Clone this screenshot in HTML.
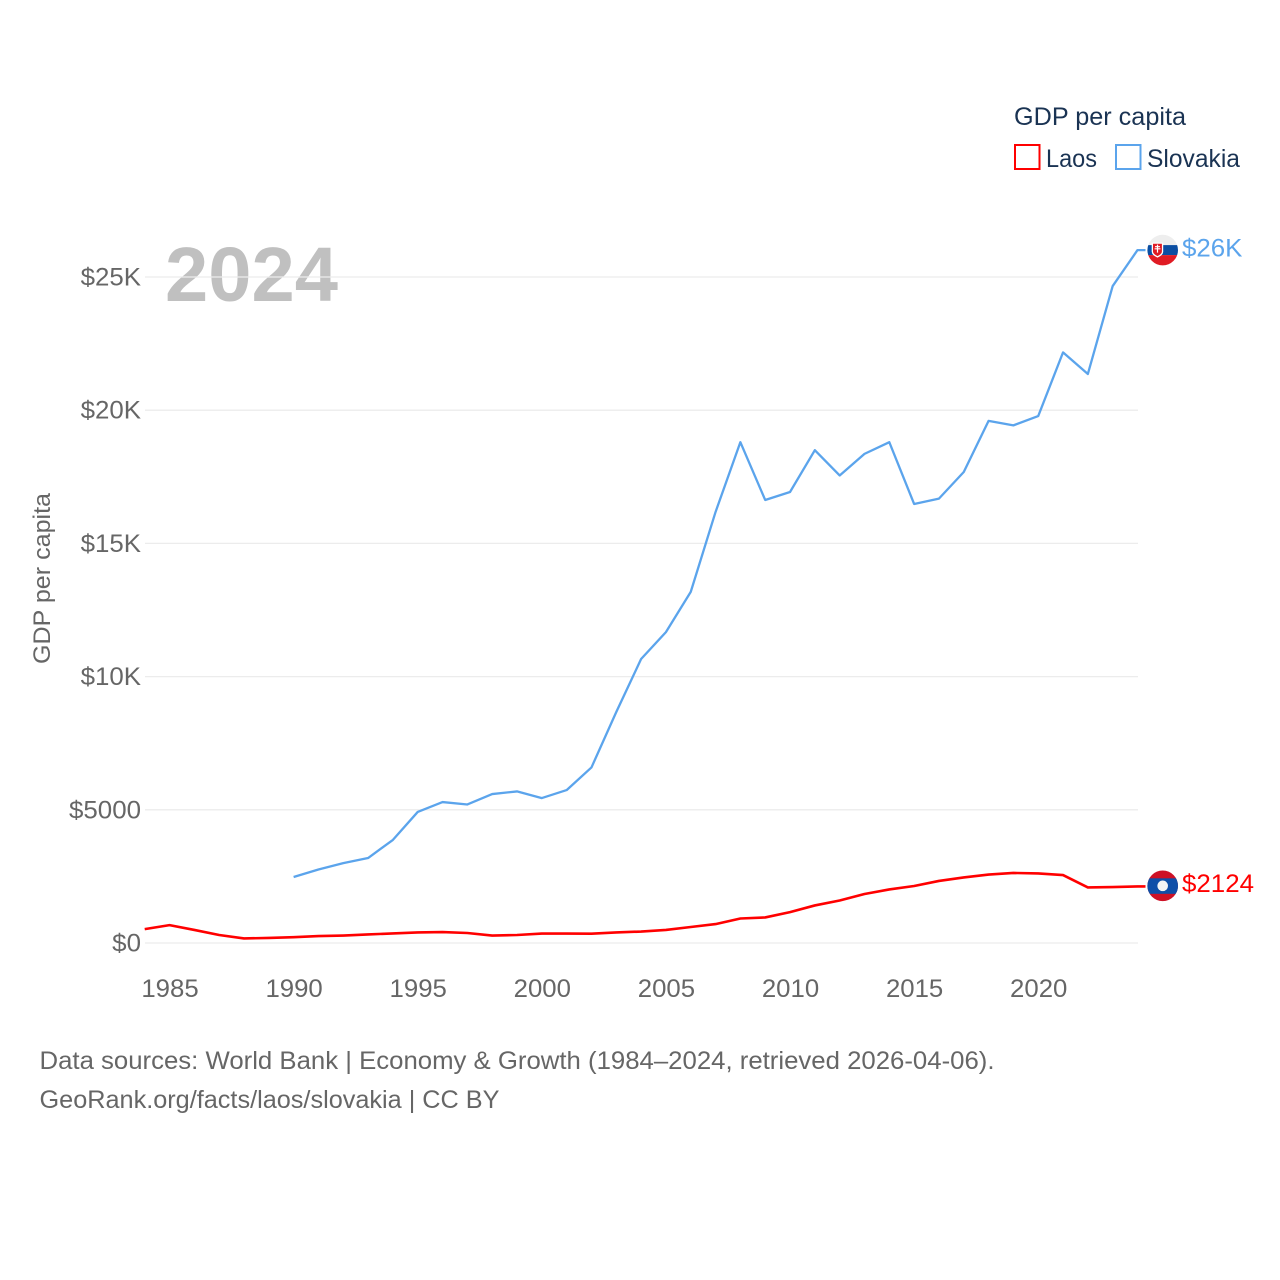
<!DOCTYPE html>
<html lang="en">
<head>
<meta charset="utf-8">
<title>GDP per capita: Laos vs Slovakia</title>
<style>
html,body{margin:0;padding:0;background:#fff;}
svg{display:block;font-family:"Liberation Sans",sans-serif;}
</style>
</head>
<body>
<svg id="chart" xmlns="http://www.w3.org/2000/svg" width="1280" height="1280" viewBox="0 0 1280 1280">
  <defs>
    <clipPath id="flag-clip-sk"><circle cx="0" cy="0" r="15.3"></circle></clipPath>
    <clipPath id="flag-clip-la"><circle cx="0" cy="0" r="15.3"></circle></clipPath>
  </defs>
  <rect width="1280" height="1280" fill="#fff"></rect>

  <text x="165" y="301" font-size="77" font-weight="700" fill="#c0c0c0" textLength="173" lengthAdjust="spacingAndGlyphs">2024</text>

  <g id="grid"></g>
  <g id="y-ticks"></g>
  <g id="x-ticks"></g>

  <text transform="translate(50,578.5) rotate(-90)" text-anchor="middle" font-size="24" fill="#666" textLength="171" lengthAdjust="spacingAndGlyphs">GDP per capita</text>

  <g id="series"></g>
  <g id="markers"></g>

  <g>
    <text x="1014" y="125" font-size="25" fill="#1a3353" textLength="172" lengthAdjust="spacingAndGlyphs">GDP per capita</text>
    <rect x="1015" y="145" width="24.5" height="24" fill="#fff" stroke="#ff0000" stroke-width="2"></rect>
    <text x="1046" y="167" font-size="25" fill="#1a3353" textLength="51" lengthAdjust="spacingAndGlyphs">Laos</text>
    <rect x="1116" y="145" width="24.5" height="24" fill="#fff" stroke="#5ba4ec" stroke-width="2"></rect>
    <text x="1147" y="167" font-size="25" fill="#1a3353" textLength="93" lengthAdjust="spacingAndGlyphs">Slovakia</text>
  </g>

  <text x="39.5" y="1069" font-size="25" fill="#666" textLength="955" lengthAdjust="spacingAndGlyphs">Data sources: World Bank | Economy &amp; Growth (1984–2024, retrieved 2026-04-06).</text>
  <text x="39.5" y="1108" font-size="25" fill="#666" textLength="460" lengthAdjust="spacingAndGlyphs">GeoRank.org/facts/laos/slovakia | CC BY</text>
</svg>

<script>
var years = [1984,1985,1986,1987,1988,1989,1990,1991,1992,1993,1994,1995,1996,1997,1998,1999,2000,2001,2002,2003,2004,2005,2006,2007,2008,2009,2010,2011,2012,2013,2014,2015,2016,2017,2018,2019,2020,2021,2022,2023,2024];
var laosValues = [520,670,490,300,170,190,220,260,280,320,360,395,410,375,280,300,355,355,350,395,430,490,600,710,920,960,1160,1410,1595,1840,2010,2140,2330,2460,2570,2630,2610,2550,2085,2100,2124];
var slovakiaValues = [null,null,null,null,null,null,2477,2760,3000,3190,3870,4920,5290,5200,5590,5690,5440,5740,6590,8670,10660,11670,13180,16180,18800,16630,16930,18500,17550,18360,18800,16480,16680,17680,19600,19430,19780,22170,21360,24660,26010];
var yTickValues = [0,5000,10000,15000,20000,25000];
var yTickLabels = ["$0","$5000","$10K","$15K","$20K","$25K"];
var xTickValues = [1985,1990,1995,2000,2005,2010,2015,2020];
var xTickLabels = ["1985","1990","1995","2000","2005","2010","2015","2020"];
var laosEndLabel = "$2124";
var slovakiaEndLabel = "$26K";

var NS = "http://www.w3.org/2000/svg";
function xScale(year){ return 144.7 + (year - 1984) * (1137.5 - 144.7) / 40; }
function yScale(v){ return 943 - v * 666 / 25000; }

function make(tag, attrs, parent){
  var el = document.createElementNS(NS, tag);
  for (var k in attrs) el.setAttribute(k, attrs[k]);
  parent.appendChild(el);
  return el;
}
function widen(t, factor){
  t.setAttribute("textLength", (t.getComputedTextLength() * factor).toFixed(1));
  t.setAttribute("lengthAdjust", "spacingAndGlyphs");
}

var gridG = document.getElementById("grid");
var yG = document.getElementById("y-ticks");
yTickValues.forEach(function(v, i){
  var line = make("line", {x1:145, x2:1138, y1:yScale(v), y2:yScale(v), stroke:"#ececec", "stroke-width":1.3}, gridG);
  
  
  var t = make("text", {x:141, y:yScale(v)+8.5, "text-anchor":"end", "font-size":25, fill:"#666"}, yG);
  
  
  t.textContent = yTickLabels[i];
  widen(t, 1.035);
});

var xG = document.getElementById("x-ticks");
xTickValues.forEach(function(v, i){
  var t = make("text", {x:xScale(v)+0.5, y:997, "text-anchor":"middle", "font-size":25, fill:"#666"}, xG);
  
  
  t.textContent = xTickLabels[i];
  widen(t, 1.03);
});

function pathFor(values){
  var d = "", started = false;
  values.forEach(function(v, i){
    if (v === null) { started = false; return; }
    d += (started ? "L" : "M") + xScale(years[i]).toFixed(2) + " " + yScale(v).toFixed(2);
    started = true;
  });
  var last = values[values.length - 1];
  d += "L1145.5 " + yScale(last).toFixed(2);
  return d;
}

var seriesG = document.getElementById("series");
var laosLine = make("path", {d:pathFor(laosValues), fill:"none", stroke:"#ff0000", "stroke-width":2.6, "stroke-linejoin":"round"}, seriesG);


var skLine = make("path", {d:pathFor(slovakiaValues), fill:"none", stroke:"#5ba4ec", "stroke-width":2.3, "stroke-linejoin":"round"}, seriesG);



var markersG = document.getElementById("markers");

var skY = yScale(slovakiaValues[slovakiaValues.length - 1]);
var skFlag = make("g", {transform:"translate(1162.7," + skY + ")", "clip-path":"url(#flag-clip-sk)"}, markersG);


make("rect", {x:-16, y:-16, width:32, height:11, fill:"#eeeeee"}, skFlag);
make("rect", {x:-16, y:-5, width:32, height:10, fill:"#0b4ea2"}, skFlag);
make("rect", {x:-16, y:5, width:32, height:11, fill:"#e01b24"}, skFlag);
make("path", {d:"M-11 -7.5H0.5V1.5Q0.5 5 -5.2 7.5Q-11 5 -11 1.5Z", fill:"#fff"}, skFlag);
make("path", {d:"M-9.7 -6.3H-0.8V1.2Q-0.8 4 -5.2 6Q-9.7 4 -9.7 1.2Z", fill:"#e01b24"}, skFlag);
make("path", {d:"M-5.8 -5.5H-4.6V-4H-2.7V-2.9H-4.6V-1.8H-2.3V-0.7H-4.6V2.5H-5.8V-0.7H-8.1V-1.8H-5.8V-2.9H-7.7V-4H-5.8Z", fill:"#fff"}, skFlag);
var skLabel = make("text", {x:1182, y:skY+6.5, "font-size":25, fill:"#5ba4ec"}, markersG);


skLabel.textContent = slovakiaEndLabel;
widen(skLabel, 1.035);

var laY = yScale(laosValues[laosValues.length - 1]);
var laFlag = make("g", {transform:"translate(1162.7," + (laY - 0.6) + ")", "clip-path":"url(#flag-clip-la)"}, markersG);


make("rect", {x:-16, y:-16, width:32, height:32, fill:"#ce1126"}, laFlag);
make("rect", {x:-16, y:-7.5, width:32, height:15.5, fill:"#0f4fa8"}, laFlag);
make("circle", {cx:0, cy:0, r:5.3, fill:"#f4f4f4"}, laFlag);
var laLabel = make("text", {x:1182, y:laY+5.5, "font-size":25, fill:"#ff0000"}, markersG);


laLabel.textContent = laosEndLabel;
widen(laLabel, 1.035);
</script>
</body>
</html>
